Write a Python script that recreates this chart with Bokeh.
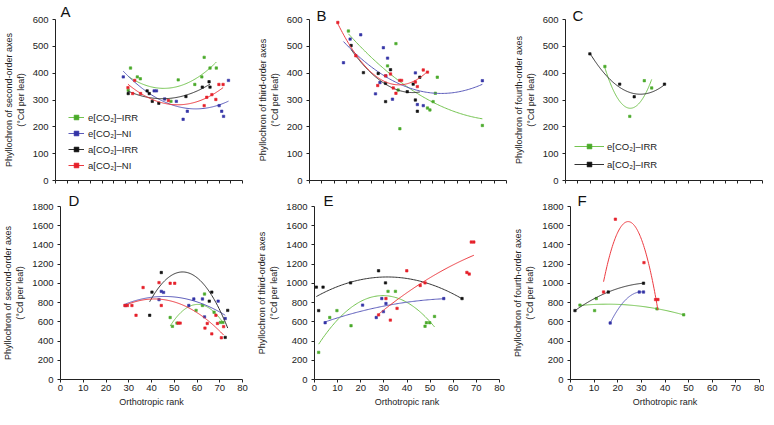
import numpy as np
from bokeh.plotting import figure
from bokeh.layouts import row, column
from bokeh.models import Legend, LegendItem, FixedTicker, Range1d
from bokeh.embed import file_html
from bokeh.resources import INLINE

FONT = "Liberation Sans"

TOP_XTICKS = list(range(0, 81, 5))
BOTTOM_XTICKS = list(range(0, 81, 10))
TICKS_600 = list(range(0, 601, 100))
TICKS_1800 = list(range(0, 1801, 200))

SERIES_LABELS = ["e[CO₂]–IRR", "e[CO₂]–NI", "a[CO₂]–IRR", "a[CO₂]–NI"]
X_LABEL = "Orthotropic rank"
Y_SECOND = "Phyllochron of second-order axes\n(°Cd per leaf)"
Y_THIRD = "Phyllochron of third-order axes\n(°Cd per leaf)"
Y_FOURTH = "Phyllochron of fourth-order axes\n(°Cd per leaf)"

# ---------------- Panel A (second-order, top) ----------------
a_eirr_x = [31.1, 32.1, 35.0, 36.3, 49.4, 52.5, 59.6, 62.6, 63.6, 66.1, 68.8]
a_eirr_y = [336, 419, 386, 379, 295, 375, 358, 386, 459, 419, 419]
a_eni_x = [29.0, 42.2, 43.2, 46.7, 51.7, 54.6, 56.4, 70.0, 71.1, 71.9, 74.0]
a_eni_y = [386, 334, 334, 304, 295, 228, 258, 279, 258, 239, 373]
a_airr_x = [31.1, 39.2, 40.1, 41.4, 44.2, 55.8, 62.8, 65.7, 66.1]
a_airr_y = [324, 334, 324, 295, 288, 313, 348, 368, 348]
a_ani_x = [31.0, 33.0, 33.9, 36.4, 48.3, 63.6, 64.7, 66.9, 68.6, 69.9, 71.7]
a_ani_y = [346, 324, 373, 324, 298, 279, 310, 320, 302, 358, 358]

# ---------------- Panel B (third-order, top) ----------------
b_eirr_x = [15.8, 31.7, 35.1, 36.0, 36.7, 47.9, 48.9, 50.2, 51.1, 51.9, 70.2]
b_eirr_y = [557, 427, 510, 337, 193, 270, 263, 294, 325, 385, 205]
b_eni_x = [13.8, 16.5, 20.8, 26.8, 28.6, 30.0, 31.0, 31.7, 33.7, 43.0, 43.8, 46.2, 70.2]
b_eni_y = [439, 527, 543, 323, 365, 495, 390, 456, 303, 401, 283, 279, 372]
b_airr_x = [16.9, 21.9, 27.9, 30.9, 30.9, 32.9, 39.7, 42.1, 43.0, 43.8, 44.8]
b_airr_y = [503, 402, 399, 294, 362, 413, 331, 359, 300, 258, 385]
b_ani_x = [11.5, 18.8, 27.7, 30.9, 32.9, 34.0, 35.1, 36.6, 37.4, 43.0, 43.8, 46.2, 47.9]
b_ani_y = [589, 465, 354, 390, 397, 345, 325, 373, 373, 367, 350, 412, 404]

# ---------------- Panel C (fourth-order, top) ----------------
c_eirr_x = [16.0, 26.1, 32.0, 35.0]
c_eirr_y = [425, 239, 372, 345]
c_airr_x = [9.9, 22.0, 27.9, 40.2]
c_airr_y = [472, 359, 312, 359]

# ---------------- Panel D (second-order, bottom) ----------------
d_eirr_x = [48.2, 49.2, 51.2, 59.6, 62.4, 63.3, 67.5, 70.3, 71.4]
d_eirr_y = [645, 553, 587, 719, 770, 889, 700, 594, 594]
d_eni_x = [28.6, 43.3, 44.3, 45.3, 56.4, 58.6, 62.4, 63.3, 69.3, 72.4]
d_eni_y = [770, 831, 917, 906, 770, 838, 838, 652, 815, 634]
d_airr_x = [39.2, 40.2, 44.3, 65.4, 66.5, 72.4, 73.5]
d_airr_y = [668, 909, 1113, 815, 909, 438, 719]
d_ani_x = [28.3, 29.4, 31.4, 33.2, 36.3, 43.3, 44.3, 48.2, 50.2, 51.7, 52.6, 63.5, 64.5, 66.5, 68.3, 69.0, 70.7, 71.7]
d_ani_y = [770, 770, 770, 668, 957, 1008, 770, 1001, 1001, 587, 587, 535, 583, 475, 668, 583, 434, 550]

# ---------------- Panel E (third-order, bottom) ----------------
e_eirr_x = [1.8, 6.6, 9.7, 15.8, 31.8, 35.0, 47.8, 48.4, 49.8, 51.9]
e_eirr_y = [282, 645, 717, 560, 917, 917, 554, 591, 591, 656]
e_eni_x = [4.6, 20.8, 26.7, 29.1, 29.8, 30.9, 55.9]
e_eni_y = [591, 774, 645, 842, 706, 791, 842]
e_airr_x = [0.8, 1.8, 3.7, 15.6, 27.7, 30.7, 63.8]
e_airr_y = [961, 717, 961, 1005, 1131, 1005, 842]
e_ani_x = [27.7, 30.9, 32.8, 35.7, 39.9, 45.7, 47.8, 65.9, 66.9, 67.8, 68.9]
e_ani_y = [672, 842, 618, 740, 1131, 978, 1005, 1114, 1097, 1430, 1430]

# ---------------- Panel F (fourth-order, bottom) ----------------
f_eirr_x = [4.0, 10.2, 10.9, 36.6, 47.9]
f_eirr_y = [774, 717, 842, 735, 673]
f_eni_x = [16.8, 29.1, 30.9]
f_eni_y = [588, 910, 910]
f_airr_x = [1.9, 16.0, 30.9]
f_airr_y = [717, 910, 1002]
f_ani_x = [14.0, 19.0, 31.1, 36.0, 37.0]
f_ani_y = [910, 1668, 1216, 832, 832]

# colours: (points, line)
C_EIRR = ("#4aaa2a", "#74c450")
C_ENI = ("#3434a6", "#5b5bbb")
C_AIRR = ("#111111", "#333333")
C_ANI = ("#e5202a", "#ec3a40")


def make_panel(width, height, left, right, top, bottom, ymax, yticks, ylabel, bottom_row,
               letter, letter_offset, letter_standoff):
    p = figure(width=width, height=height, min_border_left=left, min_border_right=right,
               min_border_top=top, min_border_bottom=bottom,
               x_range=Range1d(0, 80), y_range=Range1d(0, ymax),
               output_backend="svg", toolbar_location=None, title=letter)
    p.title.text_font = FONT
    p.title.text_font_size = "15px"
    p.title.text_font_style = "normal"
    p.title.text_color = "#111111"
    p.title.align = "left"
    p.title.offset = letter_offset
    p.title.standoff = letter_standoff
    p.title.text_line_height = 1.0
    p.grid.visible = False
    p.outline_line_color = None
    p.background_fill_color = "white"
    p.border_fill_color = "white"
    for ax in (p.xaxis[0], p.yaxis[0]):
        ax.axis_line_color = "#222222"
        ax.axis_line_width = 1
        ax.major_tick_line_color = "#222222"
        ax.minor_tick_line_color = "#222222"
        ax.major_tick_in = 0
        ax.major_tick_out = 3
        ax.minor_tick_in = 0
        ax.minor_tick_out = 0
        ax.major_label_text_font = FONT
        ax.major_label_text_font_size = "9.5px"
        ax.major_label_text_color = "#222222"
        ax.axis_label_text_font = FONT
        ax.axis_label_text_font_size = "9px"
        ax.axis_label_text_font_style = "normal"
        ax.axis_label_text_color = "#222222"
    p.yaxis.ticker = FixedTicker(ticks=yticks)
    p.yaxis.axis_label = ylabel
    p.yaxis.major_label_standoff = 4
    p.yaxis.axis_label_standoff = 4
    if bottom_row:
        p.xaxis.ticker = FixedTicker(ticks=BOTTOM_XTICKS)
        p.xaxis.axis_label = X_LABEL
        p.xaxis.major_label_standoff = 2
        p.xaxis.axis_label_standoff = 3
    else:
        # tick marks only (no labels) on the top-row x axes
        p.xaxis.ticker = FixedTicker(ticks=[], minor_ticks=TOP_XTICKS)
        p.xaxis.minor_tick_out = 3
    return p


def add_series(p, xs, ys, colors):
    xs = np.asarray(xs, dtype=float)
    ys = np.asarray(ys, dtype=float)
    coef = np.polyfit(xs, ys, 2)
    xx = np.linspace(xs.min(), xs.max(), 100)
    ln = p.line(xx, np.polyval(coef, xx), line_color=colors[1], line_width=1)
    pts = p.scatter(xs, ys, marker="square", size=2.4, line_width=0.6,
                    fill_color=colors[0], line_color=colors[0])
    return ln, pts


# ---- top row ----
pA = make_panel(254, 186, 50, 12, 16, 6, 600, TICKS_600, Y_SECOND, False, "A", 5, 0)
rA = [add_series(pA, a_eirr_x, a_eirr_y, C_EIRR),
      add_series(pA, a_eni_x, a_eni_y, C_ENI),
      add_series(pA, a_airr_x, a_airr_y, C_AIRR),
      add_series(pA, a_ani_x, a_ani_y, C_ANI)]
legA = Legend(items=[LegendItem(label=SERIES_LABELS[i], renderers=list(rA[i])) for i in range(4)],
              location=(13, 9), padding=0, margin=0, spacing=4, glyph_width=16, glyph_height=12,
              label_height=12, label_standoff=4, label_text_font=FONT, label_text_font_size="9.5px",
              label_text_color="#222222", border_line_color=None, background_fill_alpha=0)
pA.add_layout(legA)

pB = make_panel(256, 186, 54, 4, 5, 6, 600, TICKS_600, Y_THIRD, False, "B", 7, -9)
add_series(pB, b_eirr_x, b_eirr_y, C_EIRR)
add_series(pB, b_eni_x, b_eni_y, C_ENI)
add_series(pB, b_airr_x, b_airr_y, C_AIRR)
add_series(pB, b_ani_x, b_ani_y, C_ANI)

pC = make_panel(254, 186, 55, 2, 5, 6, 600, TICKS_600, Y_FOURTH, False, "C", 7, -9)
rC = [add_series(pC, c_eirr_x, c_eirr_y, C_EIRR),
      add_series(pC, c_airr_x, c_airr_y, C_AIRR)]
legC = Legend(items=[LegendItem(label=SERIES_LABELS[0], renderers=list(rC[0])),
                     LegendItem(label=SERIES_LABELS[2], renderers=list(rC[1]))],
              location=(9, 10), padding=0, margin=0, spacing=6, glyph_width=30, glyph_height=12,
              label_height=12, label_standoff=3, label_text_font=FONT, label_text_font_size="9.5px",
              label_text_color="#222222", border_line_color=None, background_fill_alpha=0)
pC.add_layout(legC)

# ---- bottom row ----
pD = make_panel(254, 223, 50, 12, 20, 28, 1800, TICKS_1800, Y_SECOND, True, "D", 8, -4)
add_series(pD, d_eirr_x, d_eirr_y, C_EIRR)
add_series(pD, d_eni_x, d_eni_y, C_ENI)
add_series(pD, d_airr_x, d_airr_y, C_AIRR)
add_series(pD, d_ani_x, d_ani_y, C_ANI)

pE = make_panel(256, 223, 52, 11, 20, 28, 1800, TICKS_1800, Y_THIRD, True, "E", 9, -4)
add_series(pE, e_eirr_x, e_eirr_y, C_EIRR)
add_series(pE, e_eni_x, e_eni_y, C_ENI)
add_series(pE, e_airr_x, e_airr_y, C_AIRR)
add_series(pE, e_ani_x, e_ani_y, C_ANI)

pF = make_panel(254, 223, 55, 5, 20, 28, 1800, TICKS_1800, Y_FOURTH, True, "F", 7, -4)
add_series(pF, f_eirr_x, f_eirr_y, C_EIRR)
add_series(pF, f_eni_x, f_eni_y, C_ENI)
add_series(pF, f_airr_x, f_airr_y, C_AIRR)
add_series(pF, f_ani_x, f_ani_y, C_ANI)

layout = column(row(pA, pB, pC, spacing=0), row(pD, pE, pF, spacing=0), spacing=0)

with open("out.html", "w") as f:
    f.write(file_html(layout, INLINE))
